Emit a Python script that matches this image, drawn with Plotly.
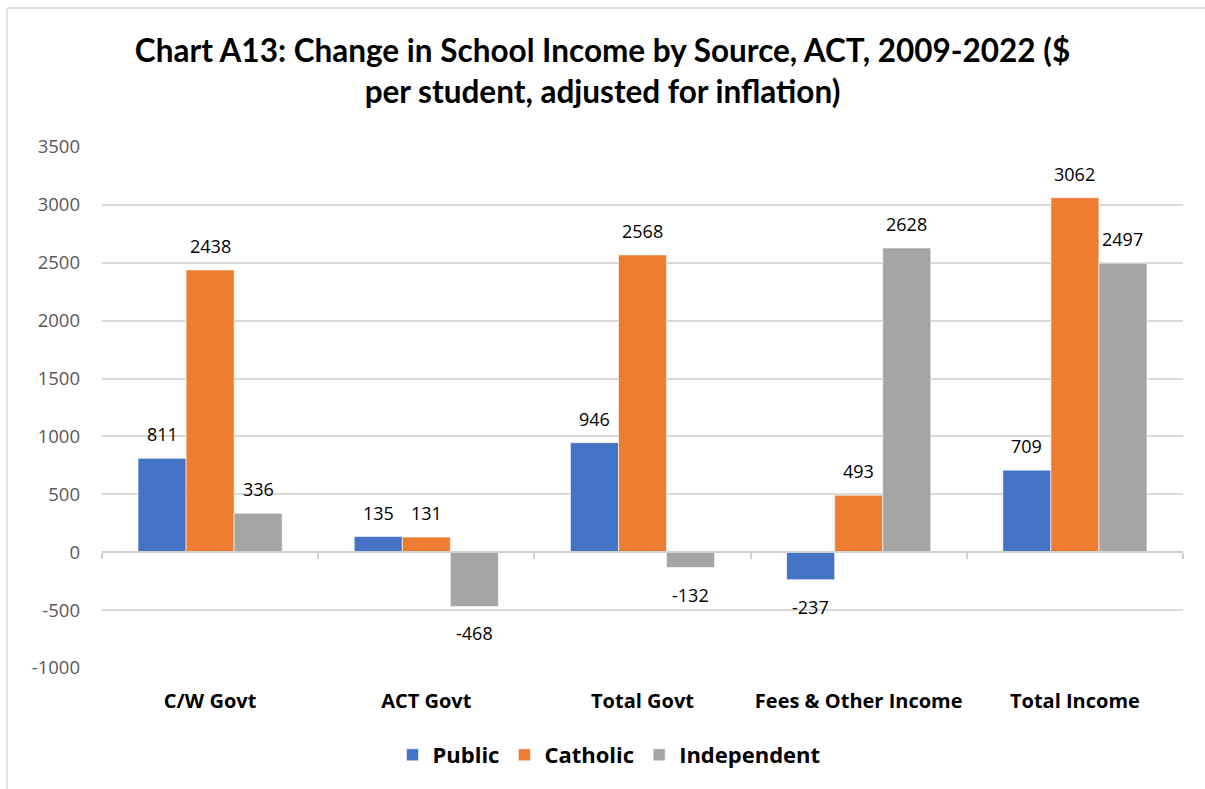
import plotly.graph_objects as go

# Change in school income per student, ACT, 2009-2022 (inflation adjusted)
categories = ["C/W Govt", "ACT Govt", "Total Govt", "Fees & Other Income", "Total Income"]
public = [811, 135, 946, -237, 709]
catholic = [2438, 131, 2568, 493, 3062]
independent = [336, -468, -132, 2628, 2497]

series_names = ["Public", "Catholic", "Independent"]
series_values = [public, catholic, independent]
series_colors = ["#4472C4", "#ED7D31", "#A5A5A5"]

y_ticks = [-1000, -500, 0, 500, 1000, 1500, 2000, 2500, 3000, 3500]

W, H = 1205, 789
L, R, T, B = 102, 22, 147, 121
plot_w = W - L - R
plot_h = H - T - B

TEXT_FONT = "Open Sans, Noto Sans, sans-serif"

fig = go.Figure()
for name, vals, color in zip(series_names, series_values, series_colors):
    fig.add_trace(go.Bar(
        name=name, x=categories, y=vals,
        marker=dict(color=color, line=dict(color="white", width=0.6)),
        hoverinfo="x+y",
    ))

# value labels placed above positive bars and below negative ones
bar_px = plot_w / len(categories) * (1 - 1 / 3) / 3
annotations = []
for i, vals in enumerate(series_values):
    shift = (i - 1) * bar_px
    for cat, v in zip(categories, vals):
        annotations.append(dict(
            x=cat, y=v, xref="x", yref="y", text=str(v), showarrow=False,
            xshift=shift, yshift=24 if v >= 0 else -27,
            font=dict(family=TEXT_FONT, size=18, color="#000000"),
        ))

def px_x(px):
    return (px - L) / plot_w

def px_y(py):
    return 1 - (py - T) / plot_h

# outer frame of the chart area (top and left edges)
shapes = [
    dict(type="line", xref="paper", yref="paper", x0=px_x(7), x1=px_x(W + 5),
         y0=px_y(8), y1=px_y(8), line=dict(color="#d9d9d9", width=1.5)),
    dict(type="line", xref="paper", yref="paper", x0=px_x(7), x1=px_x(7),
         y0=px_y(8), y1=px_y(H + 5), line=dict(color="#d9d9d9", width=1.5)),
]

fig.update_layout(
    width=W, height=H,
    margin=dict(l=L, r=R, t=T, b=B, pad=0),
    paper_bgcolor="white", plot_bgcolor="white",
    barmode="group", bargap=1 / 3, bargroupgap=0,
    title=dict(
        text="Chart A13: Change in School Income by Source, ACT, 2009-2022 ($<br>per student, adjusted for inflation)",
        x=0.5, xanchor="center", y=1 - 62 / H, yanchor="middle",
        font=dict(family="Lato, Open Sans, sans-serif", size=31.5, color="#000000", weight="bold"),
    ),
    xaxis=dict(
        type="category", categoryorder="array", categoryarray=categories,
        range=[-0.5, len(categories) - 0.5],
        showgrid=False, showline=False, zeroline=False, ticks="",
        tickfont=dict(family=TEXT_FONT, size=20, color="#000000", weight="bold"),
        ticklabelstandoff=19,
    ),
    xaxis2=dict(
        type="category", categoryorder="array", categoryarray=categories,
        range=[-0.5, len(categories) - 0.5], overlaying="x",
        anchor="free", position=1000 / 4500,
        showline=True, linecolor="#d0d0d0", linewidth=1.5,
        ticks="outside", tickson="boundaries", ticklen=6, tickcolor="#d0d0d0", tickwidth=1.5,
        showticklabels=False, showgrid=False, zeroline=False,
    ),
    yaxis=dict(
        range=[-1000, 3500], tickvals=y_ticks, ticktext=[str(v) for v in y_ticks],
        showgrid=True, gridcolor="#d9d9d9", gridwidth=1.5,
        zeroline=False, showline=False, ticks="",
        tickfont=dict(family=TEXT_FONT, size=18.5, color="#595959"),
        ticklabelstandoff=21,
    ),
    legend=dict(
        orientation="h", x=px_x(609), xanchor="center", y=px_y(755), yanchor="middle",
        font=dict(family=TEXT_FONT, size=22, color="#000000", weight="bold"),
        itemwidth=30, tracegroupgap=0, traceorder="normal",
    ),
    annotations=annotations,
    shapes=shapes,
)

# invisible trace so the zero-line axis is drawn with the category ticks
fig.add_trace(go.Scatter(x=categories, y=[0] * len(categories), xaxis="x2",
                         mode="markers", marker=dict(opacity=0), showlegend=False,
                         hoverinfo="skip"))

fig.write_html("out.html")
